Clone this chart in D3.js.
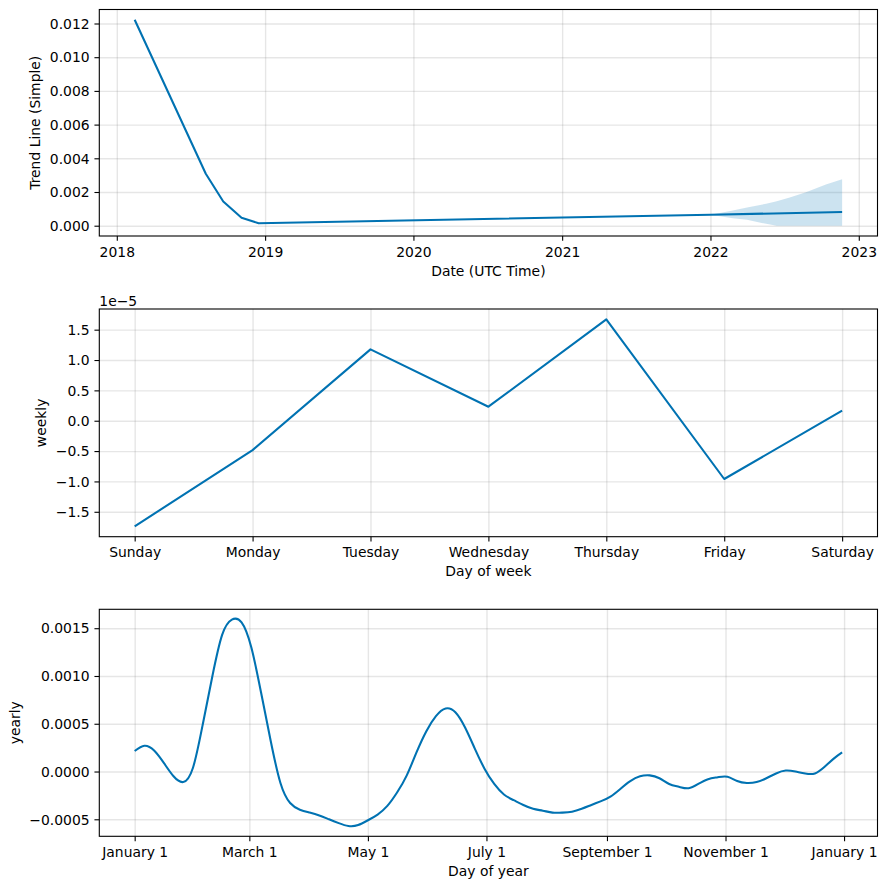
<!DOCTYPE html>
<html><head><meta charset="utf-8">
<script src="https://cdn.jsdelivr.net/npm/d3@7"></script>
<style>
body{margin:0;background:#fff}
text{font-family:"DejaVu Sans",sans-serif;fill:#000}
</style>
</head><body>
<svg id="chart" width="886" height="889"></svg>
<script>
// ---------------- DATA ----------------
const trendDates  = ["2018-02-14","2018-08-08","2018-09-20","2018-11-04","2018-12-16","2022-01-01","2022-11-21"];
const trendValues = [0.01222, 0.00308, 0.00144, 0.00047, 0.00015, 0.00065, 0.00081];

const bandDates = ["2022-01-01","2022-02-25","2022-04-01","2022-05-18","2022-06-13","2022-07-15","2022-08-24","2022-10-12","2022-11-21"];
const bandUpper = [0.00065, 0.00090, 0.00108, 0.00130, 0.00145, 0.00168, 0.00199, 0.00245, 0.00275];
const bandLower = [0.00065, 0.00044, 0.00035, 0.00011, 0.00000, 0.00000, 0.00000, 0.00000, 0.00000];

const trendYTicks = [0, 0.002, 0.004, 0.006, 0.008, 0.010, 0.012];
const trendXTickYears = [2018, 2019, 2020, 2021, 2022, 2023];

const weekdays = ["Sunday","Monday","Tuesday","Wednesday","Thursday","Friday","Saturday"];
const weeklyValues = [-1.74e-5, -0.484e-5, 1.176e-5, 0.231e-5, 1.67e-5, -0.96e-5, 0.165e-5];
const weeklyYTicks = [-1.5, -1.0, -0.5, 0.0, 0.5, 1.0, 1.5]; // in units of 1e-5

const yearlyDays = [0, 5, 10, 15, 20, 25, 30, 35, 40, 45, 50, 55, 60, 65, 70, 75, 80, 85, 90, 95,
  100, 105, 110, 115, 120, 125, 130, 135, 140, 145, 150, 155, 160, 165, 170, 175, 180, 185, 190, 195,
  200, 205, 210, 215, 220, 225, 230, 235, 240, 245, 250, 255, 260, 265, 270, 275, 280, 285, 290, 295,
  300, 305, 310, 315, 320, 325, 330, 335, 340, 345, 350, 355, 360, 364];
const yearlyValues = [0.000215, 0.00027, 0.00022, 0.00009, -0.00005, -0.00011, 0.00004, 0.00049, 0.00100, 0.00143, 0.00159, 0.00156, 0.00130, 0.00083, 0.00032, -0.00012, -0.00033, -0.00040, -0.00043, -0.00046,
  -0.00050, -0.00054, -0.00057, -0.00056, -0.00051, -0.00045, -0.00036, -0.00022, -0.00004, 0.00020, 0.00042, 0.00058, 0.00066, 0.00062, 0.00046, 0.00024, 0.00003, -0.00013, -0.00024, -0.00030,
  -0.00035, -0.00039, -0.00041, -0.00043, -0.00043, -0.00042, -0.00039, -0.00035, -0.00031, -0.00026, -0.00018, -0.00010, -0.00005, -0.00004, -0.00007, -0.00013, -0.00016, -0.000175, -0.00013, -0.00008,
  -0.00006, -0.000055, -0.00010, -0.00012, -0.00011, -0.00007, -0.00002, 0.00001, 0.00000, -0.00002, -0.00002, 0.00005, 0.00014, 0.00020];
const yearlyTickDays = [0, 59, 120, 181, 243, 304, 365];
const yearlyTickLabels = ["January 1","March 1","May 1","July 1","September 1","November 1","January 1"];
const yearlyYTicks = [-0.0005, 0.0, 0.0005, 0.0010, 0.0015];

// ---------------- LAYOUT ----------------
const W = 886, H = 889;
const FS = 13.9;
const LEFT = 99.3, RIGHT = 877.5;
const panels = [
  {top: 9.5,   bottom: 236},
  {top: 309,   bottom: 536.7},
  {top: 609.3, bottom: 836.3}
];
const COLOR = "#0072B2";
const LW = 2.08, SPINE = 1.1, TICK = 4.86, PAD = 4.86;

const svg = d3.select("#chart");
svg.append("rect").attr("width", W).attr("height", H).attr("fill", "#fff");

function pad(ext, f = 0.05) {
  const a = +ext[0], b = +ext[1];
  const d = b - a;
  return [a - d * f, b + d * f];
}

function drawPanel(p, x, y, xTicks, xFmt, yTicks, yFmt, xLabel, yLabel, yLabelX, drawData) {
  const g = svg.append("g");
  // grid
  const gx = g.append("g").attr("transform", `translate(0,${p.bottom})`)
    .call(d3.axisBottom(x).tickValues(xTicks).tickSize(-(p.bottom - p.top)).tickFormat(""));
  const gy = g.append("g").attr("transform", `translate(${LEFT},0)`)
    .call(d3.axisLeft(y).tickValues(yTicks).tickSize(-(RIGHT - LEFT)).tickFormat(""));
  [gx, gy].forEach(a => {
    a.select(".domain").remove();
    a.selectAll("line").attr("stroke", "#808080").attr("stroke-opacity", 0.2).attr("stroke-width", 1.39);
  });
  drawData(g);
  // spines
  g.append("rect").attr("x", LEFT).attr("y", p.top)
    .attr("width", RIGHT - LEFT).attr("height", p.bottom - p.top)
    .attr("fill", "none").attr("stroke", "#000").attr("stroke-width", SPINE);
  // x axis ticks
  const ax = g.append("g").attr("transform", `translate(0,${p.bottom})`)
    .call(d3.axisBottom(x).tickValues(xTicks).tickSize(TICK).tickPadding(PAD).tickFormat(xFmt));
  ax.select(".domain").remove();
  ax.selectAll("line").attr("stroke", "#000").attr("stroke-width", SPINE);
  ax.selectAll("text").attr("font-size", FS).attr("dy", null).attr("y", 20.7)
    .attr("font-family", "DejaVu Sans").attr("fill", "#000");
  // y axis ticks
  const ay = g.append("g").attr("transform", `translate(${LEFT},0)`)
    .call(d3.axisLeft(y).tickValues(yTicks).tickSize(TICK).tickPadding(PAD).tickFormat(yFmt));
  ay.select(".domain").remove();
  ay.selectAll("line").attr("stroke", "#000").attr("stroke-width", SPINE);
  ay.selectAll("text").attr("font-size", FS).attr("dy", "0.34em")
    .attr("font-family", "DejaVu Sans").attr("fill", "#000");
  // labels
  g.append("text").attr("x", (LEFT + RIGHT) / 2).attr("y", p.bottom + 39.5)
    .attr("text-anchor", "middle").attr("font-size", FS).text(xLabel);
  g.append("text").attr("transform", `translate(${yLabelX},${(p.top + p.bottom) / 2}) rotate(-90)`)
    .attr("text-anchor", "middle").attr("font-size", FS).text(yLabel);
  return g;
}

// ---------------- PANEL 1: TREND ----------------
{
  const p = panels[0];
  const parse = d3.utcParse("%Y-%m-%d");
  const td = trendDates.map(parse);
  const bd = bandDates.map(parse);
  const x = d3.scaleUtc().domain(pad(d3.extent(td)).map(v => new Date(v))).range([LEFT, RIGHT]);
  const y = d3.scaleLinear().domain(pad(d3.extent([...trendValues, ...bandUpper, ...bandLower]))).range([p.bottom, p.top]);
  const xt = trendXTickYears.map(yr => new Date(Date.UTC(yr, 0, 1)));
  drawPanel(p, x, y, xt, d3.utcFormat("%Y"), trendYTicks, d3.format(".3f"),
    "Date (UTC Time)", "Trend Line (Simple)", 40, g => {
      const area = d3.area().x((d, i) => x(bd[i])).y0((d, i) => y(bandLower[i])).y1((d, i) => y(bandUpper[i]));
      g.append("path").datum(bandUpper).attr("d", area).attr("fill", COLOR).attr("fill-opacity", 0.2);
      const line = d3.line().x((d, i) => x(td[i])).y(d => y(d));
      g.append("path").datum(trendValues).attr("d", line).attr("fill", "none")
        .attr("stroke", COLOR).attr("stroke-width", LW).attr("stroke-linejoin", "round");
    });
}

// ---------------- PANEL 2: WEEKLY ----------------
{
  const p = panels[1];
  const idx = weekdays.map((d, i) => i);
  const x = d3.scaleLinear().domain(pad(d3.extent(idx))).range([LEFT, RIGHT]);
  const y = d3.scaleLinear().domain(pad(d3.extent(weeklyValues))).range([p.bottom, p.top]);
  drawPanel(p, x, y, idx, i => weekdays[i], weeklyYTicks.map(v => v * 1e-5), v => d3.format(".1f")(v / 1e-5),
    "Day of week", "weekly", 46, g => {
      const line = d3.line().x((d, i) => x(i)).y(d => y(d));
      g.append("path").datum(weeklyValues).attr("d", line).attr("fill", "none")
        .attr("stroke", COLOR).attr("stroke-width", LW).attr("stroke-linejoin", "round");
    });
  svg.append("text").attr("x", LEFT).attr("y", 305.5).attr("font-size", FS).text("1e\u22125");
}

// ---------------- PANEL 3: YEARLY ----------------
{
  const p = panels[2];
  const x = d3.scaleLinear().domain(pad(d3.extent(yearlyDays))).range([LEFT, RIGHT]);
  const y = d3.scaleLinear().domain(pad(d3.extent(yearlyValues))).range([p.bottom, p.top]);
  drawPanel(p, x, y, yearlyTickDays, (d, i) => yearlyTickLabels[i], yearlyYTicks, d3.format(".4f"),
    "Day of year", "yearly", 20, g => {
      const line = d3.line().x((d, i) => x(yearlyDays[i])).y(d => y(d)).curve(d3.curveNatural);
      g.append("path").datum(yearlyValues).attr("d", line).attr("fill", "none")
        .attr("stroke", COLOR).attr("stroke-width", LW).attr("stroke-linejoin", "round");
    });
}
</script>
</body></html>
